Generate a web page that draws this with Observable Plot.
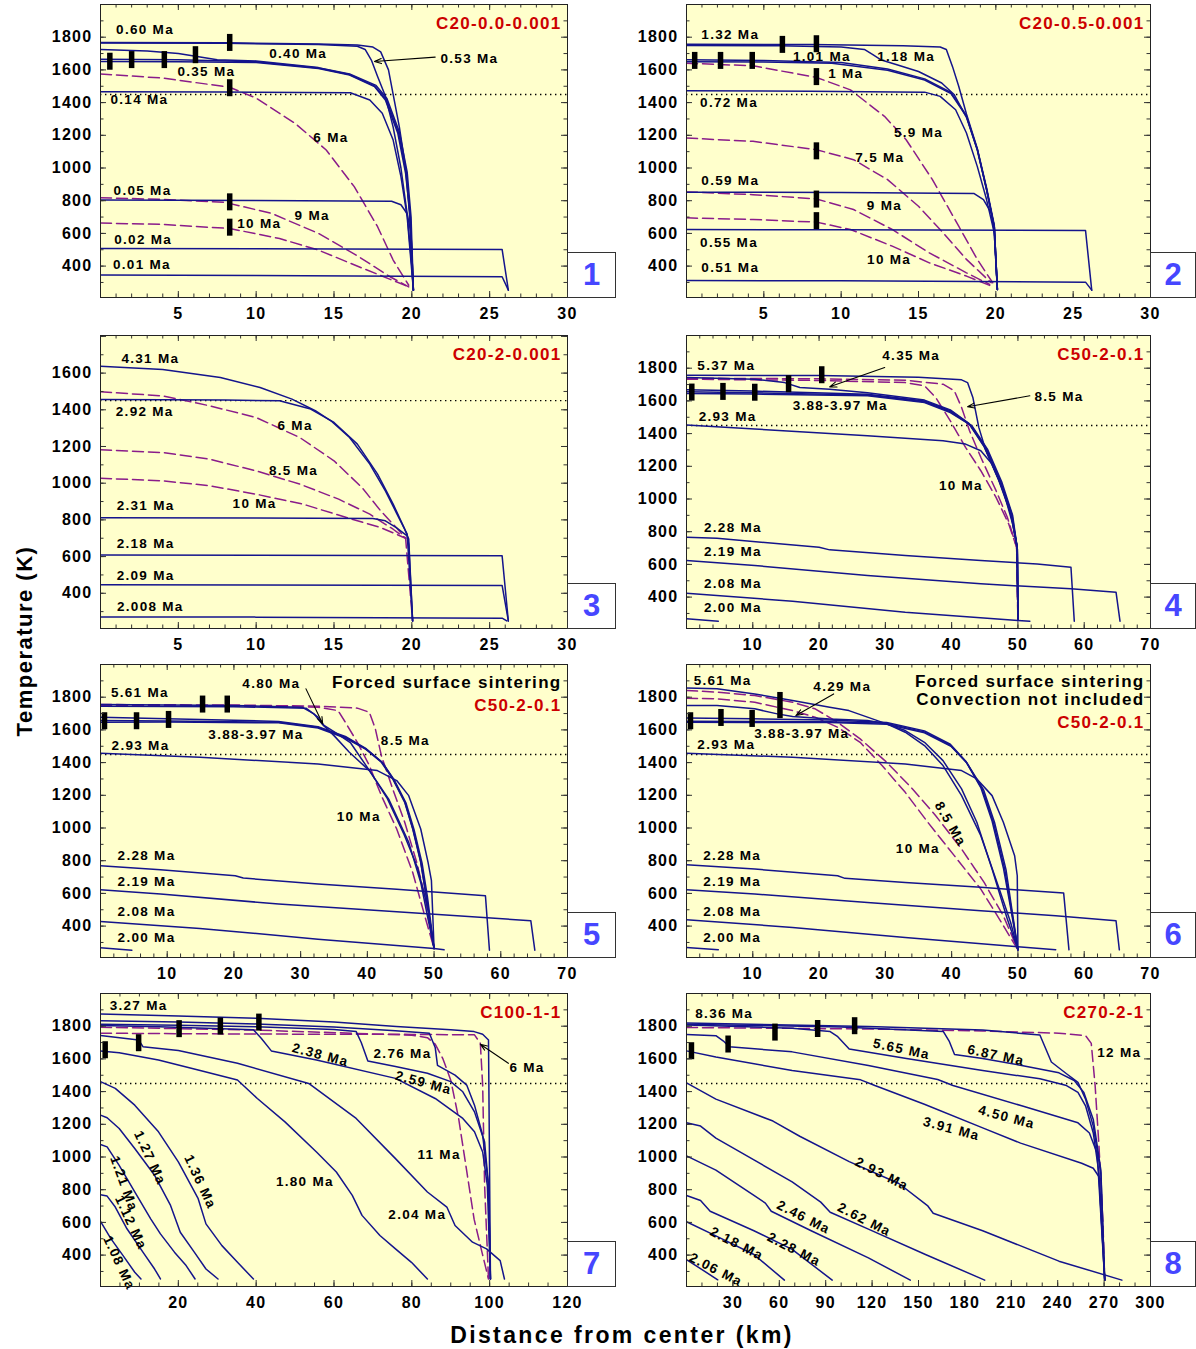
<!DOCTYPE html>
<html><head><meta charset="utf-8">
<script src="https://cdn.jsdelivr.net/npm/d3@7"></script>
<script src="https://cdn.jsdelivr.net/npm/@observablehq/plot@0.6"></script>
<style>
body{margin:0;background:#fff;}
#root{position:relative;width:1196px;height:1349px;font-family:"Liberation Sans",Arial,Helvetica,sans-serif;font-weight:bold;overflow:hidden;}
.pnl{position:absolute;}
.pnl svg{overflow:visible;font-weight:bold;}
.pnl svg text{letter-spacing:1.3px;}
.pnl svg g[aria-label="corner"] text{letter-spacing:1.5px;}
.numbox{position:absolute;box-sizing:border-box;border:1px solid #333;background:#fff;color:#4646ff;font-size:31px;font-weight:bold;display:flex;align-items:center;justify-content:center;}
#ytitle{position:absolute;left:25px;top:641px;transform:translate(-50%,-50%) rotate(-90deg);white-space:nowrap;font-size:22px;letter-spacing:1.5px;}
#xtitle{position:absolute;left:622px;top:1335px;transform:translate(-50%,-50%);white-space:nowrap;font-size:23px;letter-spacing:2.4px;}
</style>
</head><body>
<div id="root">
  <div id="ytitle">Temperature (K)</div>
  <div id="xtitle">Distance from center (km)</div>
</div>
<script>
// ---------- Panel 1: C20-0.0-0.001 ----------
const p1Solid = [
  ["0.01", [[0,345],[10,343],[25.8,335],[26.2,253]]],
  ["0.02", [[0,508],[10,506],[25.8,502],[26.2,253]]],
  ["0.05", [[0,804],[10,801],[18.7,797],[19.3,775],[19.7,720],[19.95,600],[20.1,253]]],
  ["0.14", [[0,1467],[8,1465],[16.05,1460],[17.3,1416],[18.1,1335],[18.8,1171],[19.3,947],[19.7,702],[20.1,253]]],
  ["0.35", [[0,1652],[5,1650],[10,1645],[14,1608],[16,1568],[17.6,1498],[18.3,1416],[19.1,1212],[19.6,967],[19.9,700],[20.1,253]]],
  ["0.35b", [[0,1665],[5,1662],[10,1650],[14,1612],[16,1572],[17.6,1502],[18.35,1420],[19.15,1215],[19.65,970],[19.9,700],[20.1,253]]],
  ["0.40", [[0,1725],[3,1715],[5,1700],[6.3,1680],[7.5,1662],[10,1655],[14,1614],[16,1575],[17.7,1505],[18.4,1425],[19.2,1220],[19.7,975],[19.95,700],[20.1,253]]],
  ["0.53", [[0,1765],[8,1763],[14,1755],[16.5,1745],[17,1725],[17.4,1660],[17.8,1560],[18.3,1440],[18.8,1250],[19.3,1000],[19.7,720],[20,400],[20.1,253]]],
  ["0.60", [[0,1768],[8,1766],[14,1758],[16.5,1752],[17.5,1740],[18,1710],[18.5,1600],[18.8,1450],[19.2,1250],[19.6,1000],[19.85,720],[20,400],[20.1,253]]]
];
const p1Dashed = [
  ["6", [[0,1575],[4,1550],[8.3,1494],[10,1427],[12.5,1273],[14.5,1110],[16.3,886],[17.8,641],[18.8,437],[19.8,283]]],
  ["9", [[0,818],[4,808],[8,790],[11,722],[14,600],[16.6,457],[18.6,335],[19.8,273]]],
  ["10", [[0,663],[4,655],[8.3,630],[11.5,569],[14,498],[16.6,396],[19,304],[19.8,273]]]
];
const p1Markers = [[0.6,1650],[2.0,1660],[4.1,1660],[6.1,1690],[8.3,1765],[8.3,1488],[8.3,790],[8.3,635]];
const p1Labels = [["0.60 Ma",2.86,1845],["0.40 Ma",12.7,1698],["0.53 Ma",23.7,1671],["0.35 Ma",6.8,1590],["0.14 Ma",2.5,1416],["6 Ma",14.8,1186],["0.05 Ma",2.7,859],["9 Ma",13.6,706],["10 Ma",10.2,657],["0.02 Ma",2.74,559],["0.01 Ma",2.66,410]];
const p1Arrows = [[21.5,1678,17.6,1651]];

// ---------- Panel 2: C20-0.5-0.001 ----------
const p2Solid = [
  ["0.51", [[0,312],[10,310],[25.8,302],[26.2,253]]],
  ["0.55", [[0,624],[10,622],[25.8,618],[26.2,253]]],
  ["0.59", [[0,852],[10,850],[18.6,844],[19.2,807],[19.7,726],[19.9,603],[20.1,257]]],
  ["0.72", [[0,1472],[8,1470],[15.4,1464],[16.4,1438],[17.4,1356],[18.1,1214],[18.8,1010],[19.4,807],[19.9,603],[20.1,257]]],
  ["1", [[0,1650],[5,1648],[9.4,1640],[13,1598],[15.4,1538],[17.1,1455],[18.1,1315],[18.8,1110],[19.4,868],[19.9,640],[20.1,257]]],
  ["1.01", [[0,1662],[5,1658],[10,1645],[13,1605],[15.4,1545],[17.1,1462],[18.1,1320],[18.8,1115],[19.4,870],[19.9,640],[20.1,257]]],
  ["1.18", [[0,1750],[6,1747],[10,1740],[11.5,1725],[12.1,1690],[12.6,1660],[13.5,1635],[15,1590],[16.5,1520],[17.3,1450],[18.1,1310],[18.8,1115],[19.4,870],[19.9,640],[20.1,257]]],
  ["1.32", [[0,1757],[8,1755],[14,1748],[16.4,1740],[16.8,1725],[17.2,1620],[17.6,1500],[18.1,1330],[18.8,1120],[19.4,880],[19.9,650],[20.1,257]]]
];
const p2Dashed = [
  ["5.9", [[0,1641],[4.3,1625],[8.4,1554],[10.6,1478],[12.8,1316],[14.2,1173],[15.9,929],[17.6,644],[18.8,441],[19.8,298]]],
  ["7.5", [[0,1183],[4.3,1163],[8.4,1112],[10.8,1051],[13,929],[15,766],[16.6,603],[18.1,441],[19.7,298]]],
  ["9", [[0,854],[4.3,837],[8.4,811],[10.8,746],[13.3,624],[15.7,481],[18.1,359],[19.6,288]]],
  ["10", [[0,695],[4.3,685],[8.4,669],[10.6,624],[13.3,522],[15.7,420],[18.1,339],[19.6,282]]]
];
const p2Markers = [[0.53,1655],[2.2,1655],[4.25,1655],[6.2,1753],[8.4,1757],[8.4,1556],[8.4,1102],[8.4,807],[8.4,675]];
const p2Labels = [["1.32 Ma",2.83,1818],["1.01 Ma",8.75,1682],["1.18 Ma",14.2,1682],["1 Ma",10.3,1576],["0.72 Ma",2.75,1397],["5.9 Ma",15.0,1214],["7.5 Ma",12.5,1065],["0.59 Ma",2.83,923],["9 Ma",12.8,770],["0.55 Ma",2.75,546],["10 Ma",13.1,441],["0.51 Ma",2.83,388]];
const p2Arrows = [];

// ---------- Panel 3: C20-2-0.001 ----------
const p3Solid = [
  ["2.008", [[0,271],[10,270],[25.8,264],[26.1,249]]],
  ["2.09", [[0,446],[10,445],[25.8,443],[26.2,249]]],
  ["2.18", [[0,609],[10,607],[25.8,604],[26.2,249]]],
  ["2.31", [[0,811],[10,810],[17.5,807],[18.3,795],[19.0,758],[19.7,713],[19.8,667],[20.05,249]]],
  ["2.92", [[0,1456],[8,1454],[11.5,1449],[13.5,1404],[15,1331],[16.5,1213],[17.8,1049],[18.8,886],[19.5,758],[19.8,695],[20.05,249]]],
  ["4.31", [[0,1638],[4,1620],[7.7,1576],[10.25,1522],[12.3,1458],[13.8,1395],[14.8,1340],[16,1249],[17.3,1104],[18.3,958],[19,840],[19.7,722],[20.05,249]]]
];
const p3Dashed = [
  ["6", [[0,1498],[4,1476],[7,1422],[10,1358],[12.8,1249],[15,1122],[16.8,976],[18,849],[19,758],[19.6,700],[20.05,249]]],
  ["8.5", [[0,1182],[4,1167],[7,1131],[10,1067],[12.8,995],[15.3,913],[17.3,831],[18.8,749],[19.6,700]]],
  ["10", [[0,1027],[4,1013],[7,986],[10,940],[13,886],[15.8,813],[18,758],[19.6,700]]]
];
const p3Markers = [];
const p3Labels = [["4.31 Ma",3.2,1676],["2.92 Ma",2.84,1389],["6 Ma",12.5,1316],["8.5 Ma",12.4,1067],["10 Ma",9.9,889],["2.31 Ma",2.9,876],["2.18 Ma",2.9,673],["2.09 Ma",2.9,498],["2.008 Ma",3.2,326]];
const p3Arrows = [];

// ---------- Panel 4: C50-2-0.1 ----------
const p4Solid = [
  ["2.00", [[0,268],[4.8,253]]],
  ["2.08", [[0,424],[16,375],[33,308],[50,257],[51.8,253]]],
  ["2.19", [[0,624],[10.3,593],[27.3,532],[44.4,481],[58,451],[64.8,430],[65.4,253]]],
  ["2.28", [[0,766],[4.6,760],[20,705],[21.6,689],[33,654],[44.4,624],[52.9,603],[58,583],[58.5,253]]],
  ["2.93", [[0,1452],[10.3,1428],[27.3,1387],[38.7,1356],[42.1,1336],[44.4,1295],[46.1,1214],[47.8,1051],[49.2,848],[49.9,705],[50,257]]],
  ["3.88", [[0,1668],[10,1660],[27.3,1641],[35.9,1600],[39.8,1540],[42.7,1458],[45,1316],[47.2,1112],[49,909],[49.9,700],[50,257]]],
  ["3.93", [[0,1656],[10,1650],[27.3,1636],[35.9,1595],[39.8,1534],[42.9,1452],[45.2,1310],[47.4,1105],[49.1,905],[49.9,700],[50,257]]],
  ["3.97", [[0,1645],[10,1642],[27.3,1632],[35.9,1590],[39.8,1528],[43.1,1446],[45.4,1305],[47.6,1100],[49.2,900],[49.9,700],[50,257]]],
  ["4.35", [[0,1743],[10.3,1733],[14.8,1712],[17.1,1682],[21.6,1672],[27.3,1650],[35.9,1605],[39.8,1545],[42.6,1462],[44.9,1320],[47.1,1115],[48.9,912],[49.9,700],[50,257]]],
  ["5.37", [[0,1757],[20,1755],[35,1745],[41.5,1729],[42.4,1712],[43.2,1621],[44.1,1438],[45,1316],[47.2,1112],[49,909],[49.9,700],[50,257]]]
];
const p4Dashed = [
  ["8.5", [[0,1739],[20,1735],[33,1727],[38.7,1702],[40.4,1662],[41.5,1560],[42.7,1417],[44.4,1255],[46.7,1051],[48.4,888],[49.8,705],[50,257]]],
  ["10", [[0,1733],[20,1725],[33,1712],[35.9,1692],[37.6,1621],[39.8,1478],[42.1,1316],[44.4,1173],[46.7,1010],[48.6,848],[49.8,705],[50,257]]]
];
const p4Markers = [[0.8,1651],[5.5,1655],[10.3,1650],[15.4,1702],[20.4,1757]];
const p4Labels = [["5.37 Ma",6.0,1818],["4.35 Ma",33.9,1875],["8.5 Ma",56.2,1625],["3.88-3.97 Ma",23.2,1570],["2.93 Ma",6.2,1503],["10 Ma",41.4,1082],["2.28 Ma",7.0,823],["2.19 Ma",7.0,675],["2.08 Ma",7.0,481],["2.00 Ma",7.0,333]];
const p4Arrows = [[29.9,1804,21.6,1686],[51.8,1631,42.4,1564]];

// ---------- Panel 5: C50-2-0.1, forced surface sintering ----------
const p5Solid = [
  ["2.00", [[0,267],[4.7,253]]],
  ["2.08", [[0,428],[14.9,386],[32.6,320],[50,263],[51.5,255]]],
  ["2.19", [[0,622],[9,596],[26.7,535],[44.4,488],[64.5,433],[65.1,253]]],
  ["2.28", [[0,769],[9,745],[20.2,708],[21.4,694],[32.6,657],[44.4,626],[57.7,586],[58.3,253]]],
  ["2.93", [[0,1457],[14.9,1433],[32.6,1392],[41.5,1351],[44.4,1290],[46.2,1198],[48,994],[49.1,790],[49.6,680],[50,263]]],
  ["3.88", [[0,1678],[10,1668],[26.7,1652],[32.6,1620],[36.7,1560],[39.7,1489],[42.1,1407],[43.8,1305],[45.6,1162],[46.8,999],[48,795],[48.8,591],[50,263]]],
  ["3.93", [[0,1657],[10,1655],[26.7,1647],[32.6,1616],[36.7,1555],[39.7,1484],[42.1,1402],[43.8,1300],[45.6,1157],[46.8,994],[48,790],[48.8,586],[50,263]]],
  ["3.97", [[0,1647],[10,1648],[26.7,1643],[32.6,1612],[36.7,1550],[39.9,1480],[42.3,1398],[44,1296],[45.8,1152],[47,990],[48.2,785],[49,580],[50,263]]],
  ["4.80", [[0,1745],[20,1742],[30.8,1733],[32.6,1678],[33.5,1627],[35,1590],[37.5,1520],[40.5,1340],[43,1180],[45.5,960],[47.5,760],[49,520],[50,263]]],
  ["5.61", [[0,1755],[20,1750],[30.2,1739],[32,1698],[33.2,1637],[35,1565],[37.3,1463],[40.3,1351],[43.2,1177],[46.2,912],[48,667],[49.1,443],[50,263]]]
];
const p5Dashed = [
  ["8.5", [[0,1755],[20,1752],[32.6,1745],[38.5,1733],[40.3,1708],[41.2,1606],[42.1,1443],[43.8,1239],[45.6,1035],[47.4,790],[48.6,586],[50,263]]],
  ["10", [[0,1749],[20,1745],[32.6,1739],[35.6,1718],[36.7,1647],[38.5,1524],[40.3,1382],[42.1,1198],[44.4,994],[46.8,728],[48.6,463],[50,263]]]
];
const p5Markers = [[0.6,1653],[5.4,1653],[10.2,1661],[15.3,1755],[19,1755]];
const p5Labels = [["5.61 Ma",5.9,1827],["4.80 Ma",25.6,1882],["3.88-3.97 Ma",23.3,1569],["2.93 Ma",6.0,1504],["8.5 Ma",45.7,1533],["10 Ma",38.7,1071],["2.28 Ma",6.9,830],["2.19 Ma",6.9,671],["2.08 Ma",6.9,488],["2.00 Ma",6.9,328]];
const p5Arrows = [[30.8,1851,33.3,1637]];

// ---------- Panel 6: C50-2-0.1, forced sintering, no convection ----------
const p6Solid = [
  ["2.00", [[0,269],[4.8,255]]],
  ["2.08", [[0,439],[16,392],[33,330],[50,273],[55.7,255]]],
  ["2.19", [[0,622],[10.3,596],[27.3,545],[44.4,494],[55.7,463],[64.8,433],[65.3,255]]],
  ["2.28", [[0,775],[10.3,749],[22.8,708],[23.9,692],[33,667],[44.4,637],[56.9,602],[57.7,255]]],
  ["2.93", [[0,1457],[16,1433],[33,1392],[41.5,1351],[43.8,1300],[46.1,1198],[47.8,1035],[49.5,831],[49.9,708],[50,255]]],
  ["3.88", [[0,1673],[10,1668],[21.6,1660],[30.2,1645],[35.9,1594],[39.8,1512],[42.1,1410],[44.4,1247],[46.1,1043],[47.8,757],[48.9,512],[50,255]]],
  ["3.93", [[0,1653],[10,1652],[21.6,1650],[30.2,1640],[35.9,1588],[39.8,1506],[42.2,1404],[44.6,1240],[46.3,1035],[48,750],[49,505],[50,255]]],
  ["3.97", [[0,1647],[10,1646],[21.6,1645],[30.2,1635],[35.9,1582],[39.9,1500],[42.3,1398],[44.8,1235],[46.5,1030],[48.2,745],[49.1,500],[50,255]]],
  ["4.29", [[0,1749],[4.6,1749],[10.3,1729],[13.7,1698],[16,1682],[21.6,1667],[27.3,1657],[30.2,1637],[33,1586],[35.9,1504],[38.7,1382],[41.5,1198],[44.4,953],[47.2,626],[48.9,422],[50,255]]],
  ["5.61", [[0,1857],[4.6,1851],[10.3,1820],[16,1780],[21.6,1739],[24.5,1718],[27.3,1678],[30.2,1637],[33,1596],[35.9,1524],[38.7,1412],[41.5,1239],[43.8,1035],[46.1,749],[48.4,443],[50,255]]]
];
const p6Dashed = [
  ["8.5", [[0,1841],[4.6,1831],[10.3,1810],[16,1769],[19.4,1729],[22.8,1647],[26.2,1545],[30.2,1402],[34.1,1239],[37.6,1075],[41.5,871],[44.9,667],[47.8,463],[50,255]]],
  ["10", [[0,1794],[4.6,1790],[10.3,1769],[16,1718],[19.4,1678],[22.8,1616],[26.2,1524],[29.5,1382],[33,1218],[36.4,1035],[40.4,831],[44.4,626],[47.2,443],[50,255]]]
];
const p6Markers = [[0.6,1653],[5.2,1673],[9.9,1667],[14.1,1749,80]];
const p6Labels = [["5.61 Ma",5.45,1902],["4.29 Ma",23.5,1865],["3.88-3.97 Ma",17.4,1580],["2.93 Ma",6.0,1508],["8.5 Ma",39.8,1024,60],["10 Ma",34.9,871],["2.28 Ma",6.9,830],["2.19 Ma",6.9,671],["2.08 Ma",6.9,488],["2.00 Ma",6.9,328]];
const p6Arrows = [[22.2,1820,16.5,1688]];

// ---------- Panel 7: C100-1-1 ----------
const p7Solid = [
  ["1.08", [[0,606],[2.7,499],[5.8,397],[8.8,295],[10.4,254]]],
  ["1.12", [[0,769],[1.7,761],[3.8,694],[6.8,561],[10.9,418],[13.9,315],[15.4,254]]],
  ["1.21", [[0,1076],[1.7,1062],[4.8,949],[8.8,786],[12.9,622],[15.4,530],[19,418],[22,336],[24.3,254]]],
  ["1.27", [[0,1256],[1.7,1240],[4.8,1174],[8.8,1052],[13.9,888],[18,704],[20.5,540],[24.1,418],[27.1,315],[30.2,254]]],
  ["1.36", [[0,1461],[3.8,1420],[8.8,1317],[14.9,1154],[20,970],[25.1,745],[27.1,591],[31.2,458],[35.2,356],[39.3,254]]],
  ["1.80", [[0,1649],[4.8,1638],[14.9,1593],[25.1,1532],[35.2,1471],[40.3,1358],[47.4,1215],[55.5,1031],[60.6,908],[64.7,765],[67.2,643],[71.8,520],[75.8,438],[79.9,356],[84,254]]],
  ["2.04", [[0,1743],[9.8,1716],[10.9,1675],[20,1651],[35.2,1573],[53.5,1450],[65.7,1236],[75.8,990],[84,786],[89,694],[91.1,581],[95.6,479],[99.2,438],[102.7,366],[103.8,254]]],
  ["2.38", [[0,1804],[15,1796],[39.3,1778],[41.3,1726],[43.9,1649],[55.5,1593],[75.8,1481],[86,1358],[93.1,1236],[96.1,1154],[98.2,1031],[99.4,827],[100.2,254]]],
  ["2.59", [[0,1812],[20,1806],[40,1796],[60,1780],[65.7,1767],[67,1700],[68.7,1587],[75.8,1553],[84,1512],[90,1461],[93.1,1399],[96.1,1276],[98.7,1092],[99.7,827],[100.2,254]]],
  ["2.76", [[0,1833],[20,1826],[40,1814],[60,1795],[75.8,1772],[84.5,1757],[86,1670],[86.6,1560],[91.1,1501],[94.1,1440],[96.1,1317],[98.2,1133],[99.7,827],[100.2,254]]],
  ["3.27", [[0,1874],[20,1862],[40,1849],[60,1825],[76,1798],[90,1778],[96,1767],[98.2,1751],[99.7,1716],[100.2,254]]]
];
const p7Dashed = [
  ["11", [[0,1794],[40,1776],[80,1745],[84,1730],[86,1690],[88,1600],[90,1470],[92,1240],[94,930],[96,620],[98,420],[99.7,254]]],
  ["6", [[0,1757],[40,1752],[80,1750],[96.1,1747],[97.6,1696],[98.2,1440],[98.7,827],[99.7,254]]]
];
const p7Markers = [[1.2,1653],[9.8,1696],[20.2,1782],[30.8,1798],[40.7,1822]];
const p7Labels = [["3.27 Ma",9.8,1925],["2.38 Ma",56.5,1624,15],["2.76 Ma",77.6,1634],["2.59 Ma",83,1454,15],["6 Ma",109.6,1546],["11 Ma",87,1012],["1.80 Ma",52.5,849],["2.04 Ma",81.4,645],["1.27 Ma",12.7,994,65],["1.36 Ma",25.6,847,65],["1.21 Ma",6,837,70],["1.12 Ma",7.8,598,65],["1.08 Ma",4.8,352,65]];
const p7Arrows = [[104.8,1573,97.6,1690]];

// ---------- Panel 8: C270-2-1 ----------
const p8Solid = [
  ["2.06", [[0,373],[20.2,249]]],
  ["2.18", [[0,604],[19,518],[43.6,404],[63.3,247]]],
  ["2.28", [[0,765],[9.1,734],[15.3,668],[43.6,549],[68.3,435],[94.2,247]]],
  ["2.46", [[0,1007],[19,920],[43.6,765],[51,718],[54.8,668],[80.6,549],[117.6,383],[144.7,247]]],
  ["2.62", [[0,1209],[9.1,1189],[19,1116],[43.6,982],[68.3,848],[86.8,724],[92.9,662],[117.6,559],[154.5,404],[192.8,247]]],
  ["2.93", [[0,1453],[19,1354],[55.9,1220],[73.2,1127],[105.2,972],[137.3,838],[155.8,703],[159.5,656],[191.5,549],[240.8,363],[281.5,247]]],
  ["3.91", [[0,1649],[19,1612],[68.3,1529],[112.6,1472],[121.8,1437],[153.8,1323],[191.5,1178],[216,1085],[255.5,962],[263,931],[266.7,879],[270.4,247]]],
  ["4.50", [[0,1750],[19,1742],[23.9,1709],[27.6,1674],[68.3,1643],[117.6,1560],[162.4,1474],[172.3,1437],[216.7,1313],[253.1,1209],[260.5,1147],[265.5,1023],[270.4,247]]],
  ["5.65", [[0,1808],[68.3,1788],[92.9,1767],[97.8,1736],[105.2,1660],[142.2,1602],[191.5,1529],[228.5,1478],[245.7,1437],[253.1,1395],[258,1313],[263,1147],[266.7,900],[270.4,247]]],
  ["6.87", [[0,1812],[100,1795],[166.1,1767],[170,1705],[173.3,1627],[191.5,1602],[216.7,1560],[240.8,1515],[250.7,1468],[256.9,1395],[263,1230],[267.9,920],[270.4,247]]],
  ["8.36", [[0,1819],[117.6,1798],[191.5,1777],[228.5,1746],[232.2,1664],[235.9,1581],[245.7,1509],[253.1,1457],[258,1354],[263,1189],[267.9,900],[270.4,247]]]
];
const p8Dashed = [
  ["12", [[0,1792],[117.6,1783],[191.5,1771],[240.8,1757],[258,1742],[261.7,1695],[264.2,1437],[266.7,1065],[269.2,611],[270.4,247]]]
];
const p8Markers = [[3.2,1647],[26.9,1688],[57.2,1761],[84.8,1783],[108.7,1800]];
const p8Labels = [["8.36 Ma",24.4,1874],["5.65 Ma",139,1660,12],["6.87 Ma",200,1622,12],["12 Ma",279.8,1639],["4.50 Ma",207,1244,15],["3.91 Ma",171.3,1172,15],["2.93 Ma",126.2,896,27],["2.62 Ma",115,617,27],["2.46 Ma",75.7,631,27],["2.28 Ma",69.5,435,27],["2.18 Ma",32.5,470,27],["2.06 Ma",19,311,27]];
const p8Arrows = [];

// ---------- axes ----------
const tempTicks = [400,600,800,1000,1200,1400,1600,1800];
const tempTicks3 = [400,600,800,1000,1200,1400,1600];
const xTicks20 = [5,10,15,20,25,30];
const xTicks50 = [10,20,30,40,50,60,70];
const xTicks100 = [20,40,60,80,100,120];
const xTicks270 = [30,60,90,120,150,180,210,240,270,300];
const solidusT = 1450;

const RED = "#cc0000";
const panels = [
  {n:1, col:0, row:0, x:[0,30], y:[208,2000], xt:xTicks20, minor:1, yt:tempTicks, solid:p1Solid, dashed:p1Dashed, markers:p1Markers, labels:p1Labels, arrows:p1Arrows, corner:[["C20-0.0-0.001",RED]]},
  {n:2, col:1, row:0, x:[0,30], y:[208,2000], xt:xTicks20, minor:1, yt:tempTicks, solid:p2Solid, dashed:p2Dashed, markers:p2Markers, labels:p2Labels, arrows:p2Arrows, corner:[["C20-0.5-0.001",RED]]},
  {n:3, col:0, row:1, x:[0,30], y:[208,1805], xt:xTicks20, minor:1, yt:tempTicks3, solid:p3Solid, dashed:p3Dashed, markers:p3Markers, labels:p3Labels, arrows:p3Arrows, corner:[["C20-2-0.001",RED]]},
  {n:4, col:1, row:1, x:[0,70], y:[208,2000], xt:xTicks50, minor:2, yt:tempTicks, solid:p4Solid, dashed:p4Dashed, markers:p4Markers, labels:p4Labels, arrows:p4Arrows, corner:[["C50-2-0.1",RED]]},
  {n:5, col:0, row:2, x:[0,70], y:[208,2000], xt:xTicks50, minor:2, yt:tempTicks, solid:p5Solid, dashed:p5Dashed, markers:p5Markers, labels:p5Labels, arrows:p5Arrows, corner:[["Forced surface sintering","#000"],["C50-2-0.1",RED]], cornerDy:[18,41]},
  {n:6, col:1, row:2, x:[0,70], y:[208,2000], xt:xTicks50, minor:2, yt:tempTicks, solid:p6Solid, dashed:p6Dashed, markers:p6Markers, labels:p6Labels, arrows:p6Arrows, corner:[["Forced surface sintering","#000"],["Convection not included","#000"],["C50-2-0.1",RED]], cornerDy:[17,35,58]},
  {n:7, col:0, row:3, x:[0,120], y:[208,2000], xt:xTicks100, minor:5, yt:tempTicks, solid:p7Solid, dashed:p7Dashed, markers:p7Markers, labels:p7Labels, arrows:p7Arrows, corner:[["C100-1-1",RED]]},
  {n:8, col:1, row:3, x:[0,300], y:[208,2000], xt:xTicks270, minor:10, yt:tempTicks, solid:p8Solid, dashed:p8Dashed, markers:p8Markers, labels:p8Labels, arrows:p8Arrows, corner:[["C270-2-1",RED]]}
];

const FH = 293;
const rowTops = [4, 335, 664, 993];
const colLeft = [100, 686];
const colW = [467, 464];
const ML = 100, MR = 12, MT = 10, MB = 32;
const NAVY = "#14148c", PURPLE = "#8a1c8a";
const root = document.getElementById("root");

function rows(curves) {
  return curves.flatMap(([id, pts]) => pts.map(([x, y]) => ({id, x, y})));
}
function range(a, b, s) { const r = []; for (let v = a; v <= b + 1e-9; v += s) r.push(+v.toFixed(6)); return r; }

for (const p of panels) {
  const fw = colW[p.col];
  const [x0, x1] = p.x, [y0, y1] = p.y;
  const kx = (x1 - x0) / fw, ky = (y1 - y0) / FH; // data units per pixel
  const majorStep = p.xt[1] - p.xt[0];
  const xMajor = range(x0, x1, majorStep).filter(v => v > x0 && v < x1);
  const xMinor = range(x0, x1, p.minor).filter(v => v > x0 && v < x1);
  const yMajor = range(200, 2000, 200).filter(v => v > y0 && v < y1);
  const yMinor = range(300, 1900, 100).filter(v => v > y0 && v < y1);
  const big = 6, small = 3.5;
  const tickMarks = [
    Plot.ruleX(xMinor, {x: d => d, y1: y0, y2: y0 + small * ky, stroke: "#333"}),
    Plot.ruleX(xMajor, {x: d => d, y1: y0, y2: y0 + big * ky, stroke: "#333"}),
    Plot.ruleX(xMinor, {x: d => d, y1: y1, y2: y1 - small * ky, stroke: "#333"}),
    Plot.ruleX(xMajor, {x: d => d, y1: y1, y2: y1 - big * ky, stroke: "#333"}),
    Plot.ruleY(yMinor, {y: d => d, x1: x0, x2: x0 + small * kx, stroke: "#333"}),
    Plot.ruleY(yMajor, {y: d => d, x1: x0, x2: x0 + big * kx, stroke: "#333"}),
    Plot.ruleY(yMinor, {y: d => d, x1: x1, x2: x1 - small * kx, stroke: "#333"}),
    Plot.ruleY(yMajor, {y: d => d, x1: x1, x2: x1 - big * kx, stroke: "#333"})
  ];
  const cornerDy = p.cornerDy || [19];
  const cornerMarks = p.corner.map(([t, c], i) => Plot.text([t], {
    text: d => d, frameAnchor: "top-right", textAnchor: "end", lineAnchor: "middle",
    dx: -6, dy: cornerDy[i], fill: c, fontSize: 17, ariaLabel: "corner"
  }));
  const svg = Plot.plot({
    width: ML + fw + MR, height: MT + FH + MB,
    marginLeft: ML, marginRight: MR, marginTop: MT, marginBottom: MB,
    x: {domain: p.x, label: null}, y: {domain: p.y, label: null},
    style: {fontFamily: '"Liberation Sans", Arial, sans-serif', fontWeight: "bold", background: "transparent", overflow: "visible"},
    marks: [
      Plot.frame({fill: "#ffffcc", stroke: null}),
      Plot.ruleY([solidusT], {stroke: "#000", strokeWidth: 1.4, strokeDasharray: "1.4,3.6"}),
      Plot.line(rows(p.dashed), {x: "x", y: "y", z: "id", stroke: PURPLE, strokeWidth: 1.5, strokeDasharray: "11,5", clip: true}),
      Plot.line(rows(p.solid), {x: "x", y: "y", z: "id", stroke: NAVY, strokeWidth: 1.5, clip: true}),
      Plot.ruleX(p.markers, {x: d => d[0], y1: d => d[1] - (d[2] || 52), y2: d => d[1] + (d[2] || 52), stroke: "#000", strokeWidth: 5.5}),
      Plot.arrow(p.arrows, {x1: d => d[0], y1: d => d[1], x2: d => d[2], y2: d => d[3], stroke: "#000", strokeWidth: 1.1, headLength: 10, headAngle: 40}),
      Plot.text(p.labels, {x: d => d[1], y: d => d[2], text: d => d[0], rotate: d => d[3] || 0, fill: "#000", fontSize: 13.5}),
      ...cornerMarks,
      ...tickMarks,
      Plot.axisX(p.xt, {tickSize: 0, tickPadding: 10, fontSize: 16, fill: "#000", label: null, tickFormat: d => String(d)}),
      Plot.axisY(p.yt, {tickSize: 0, tickPadding: 8, fontSize: 16, fill: "#000", label: null, tickFormat: d => String(d)}),
      Plot.frame({stroke: "#222", strokeWidth: 1})
    ]
  });
  const holder = document.createElement("div");
  holder.className = "pnl";
  holder.style.left = (colLeft[p.col] - ML) + "px";
  holder.style.top = (rowTops[p.row] - MT) + "px";
  holder.appendChild(svg);
  root.appendChild(holder);

  const box = document.createElement("div");
  box.className = "numbox";
  const bx = colLeft[p.col] + fw;
  box.style.left = bx + "px";
  box.style.top = (rowTops[p.row] + FH - 45) + "px";
  box.style.width = (p.col === 0 ? 49 : 1196 - bx) + "px";
  box.style.height = "46px";
  box.textContent = String(p.n);
  root.appendChild(box);
}
</script>
</body></html>
